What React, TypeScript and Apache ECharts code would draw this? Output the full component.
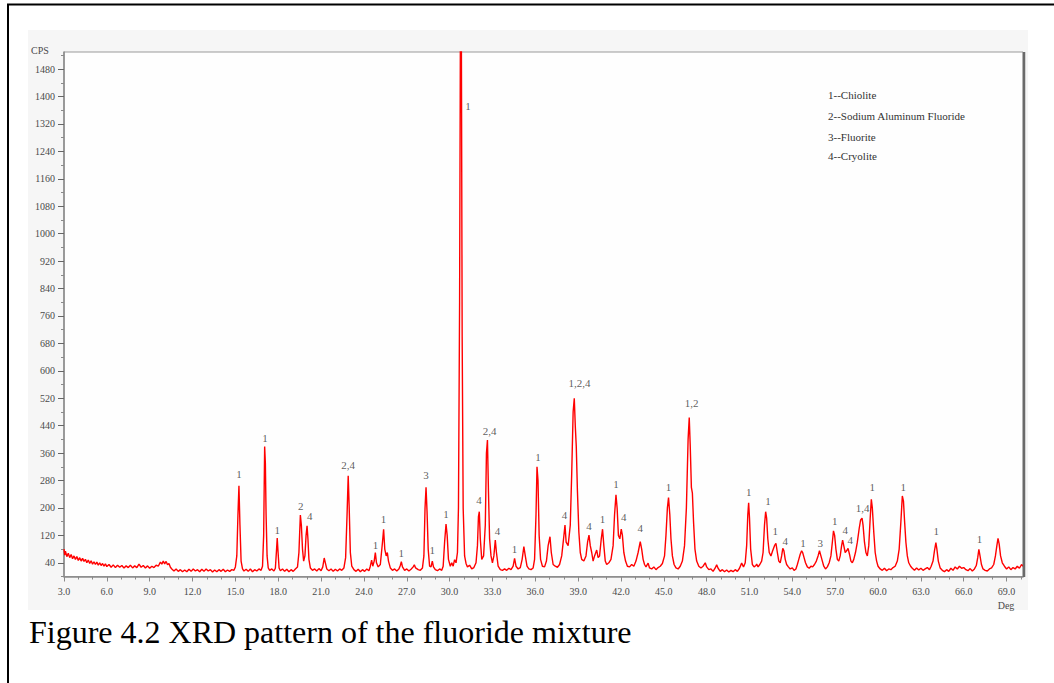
import React, { useEffect, useRef } from "react";
import * as echarts from "echarts";

// ---- data ----
const xTickLabels = [3, 6, 9, 12, 15, 18, 21, 24, 27, 30, 33, 36, 39, 42, 45, 48, 51, 54, 57, 60, 63, 66, 69];
const yTickLabels = [40, 120, 200, 280, 360, 440, 520, 600, 680, 760, 840, 920, 1000, 1080, 1160, 1240, 1320, 1400, 1480];
const yMinorTicks = [0, 80, 160, 240, 320, 400, 480, 560, 640, 720, 800, 880, 960, 1040, 1120, 1200, 1280, 1360, 1440, 1520];

const legendLines = ["1--Chiolite", "2--Sodium Aluminum Fluoride", "3--Fluorite", "4--Cryolite"];
const caption = "Figure 4.2 XRD pattern of the fluoride mixture";
const yUnit = "CPS";
const xUnit = "Deg";

// 2-theta (deg), intensity (CPS)
const pattern: number[][] = [
  [3.0, 80], [3.05, 62], [3.1, 74], [3.2, 58], [3.3, 68], [3.4, 55], [3.5, 64], [3.6, 52], [3.7, 60], [3.8, 50], [3.9, 58],
  [4.0, 47], [4.1, 55], [4.2, 45], [4.3, 53], [4.4, 44], [4.5, 50], [4.6, 40], [4.7, 48], [4.8, 38], [4.9, 46],
  [5.0, 36], [5.1, 43], [5.2, 35], [5.3, 42], [5.4, 33], [5.5, 40], [5.6, 32], [5.7, 38], [5.8, 30], [5.9, 37],
  [6.0, 29], [6.15, 35], [6.3, 27], [6.45, 34], [6.6, 26], [6.75, 33], [6.9, 27], [7.05, 32], [7.2, 25], [7.35, 31],
  [7.5, 26], [7.65, 33], [7.8, 25], [7.95, 31], [8.1, 26], [8.25, 36], [8.4, 27], [8.55, 32], [8.7, 25], [8.85, 31],
  [9.0, 24], [9.15, 30], [9.3, 26], [9.45, 33], [9.6, 30], [9.75, 42], [9.85, 36], [9.95, 45], [10.05, 37], [10.15, 44],
  [10.25, 34], [10.35, 38], [10.45, 27], [10.55, 22], [10.7, 16], [10.85, 22], [11.0, 15], [11.15, 20], [11.3, 14],
  [11.45, 19], [11.6, 14], [11.75, 21], [11.9, 15], [12.05, 22], [12.2, 16], [12.35, 20], [12.5, 14], [12.65, 21],
  [12.8, 15], [12.95, 22], [13.1, 16], [13.25, 20], [13.4, 13], [13.55, 19], [13.7, 14], [13.85, 20], [14.0, 15],
  [14.15, 21], [14.3, 14], [14.45, 19], [14.6, 15], [14.75, 20], [14.9, 18], [15.0, 28], [15.1, 60], [15.18, 180],
  [15.25, 265], [15.32, 150], [15.4, 45], [15.5, 22], [15.6, 16], [15.75, 21], [15.9, 15], [16.05, 22], [16.2, 14],
  [16.35, 20], [16.5, 16], [16.65, 22], [16.8, 18], [16.9, 30], [16.98, 120], [17.05, 379], [17.1, 330], [17.15, 180],
  [17.22, 60], [17.3, 25], [17.4, 18], [17.55, 22], [17.7, 16], [17.8, 24], [17.87, 70], [17.93, 112], [17.99, 70],
  [18.06, 25], [18.15, 17], [18.3, 22], [18.45, 15], [18.6, 21], [18.75, 14], [18.9, 20], [19.05, 15], [19.2, 22],
  [19.35, 28], [19.45, 70], [19.55, 179], [19.62, 150], [19.7, 80], [19.78, 45], [19.87, 60], [19.95, 120], [20.02, 148],
  [20.08, 110], [20.15, 50], [20.25, 25], [20.4, 18], [20.55, 22], [20.7, 16], [20.85, 23], [21.0, 17], [21.12, 28],
  [21.22, 54], [21.3, 40], [21.4, 22], [21.55, 17], [21.7, 22], [21.85, 15], [22.0, 21], [22.15, 16], [22.3, 22],
  [22.45, 18], [22.6, 25], [22.72, 55], [22.82, 180], [22.9, 294], [22.97, 200], [23.05, 70], [23.15, 30], [23.3, 20],
  [23.45, 15], [23.6, 21], [23.75, 14], [23.9, 20], [24.05, 15], [24.2, 22], [24.35, 17], [24.45, 30], [24.54, 48],
  [24.62, 30], [24.72, 45], [24.8, 70], [24.88, 40], [25.0, 28], [25.15, 35], [25.3, 100], [25.38, 138], [25.46, 80],
  [25.56, 60], [25.64, 70], [25.72, 45], [25.85, 25], [26.0, 18], [26.15, 22], [26.3, 16], [26.45, 22], [26.55, 32],
  [26.62, 43], [26.7, 28], [26.85, 18], [27.0, 22], [27.15, 16], [27.3, 21], [27.45, 28], [27.53, 34], [27.62, 25],
  [27.8, 20], [27.95, 18], [28.1, 25], [28.2, 60], [28.28, 200], [28.35, 260], [28.42, 190], [28.5, 80], [28.6, 30],
  [28.7, 28], [28.79, 45], [28.87, 28], [29.0, 20], [29.15, 17], [29.3, 22], [29.45, 18], [29.55, 30], [29.65, 100],
  [29.75, 153], [29.83, 120], [29.92, 50], [30.05, 30], [30.15, 40], [30.25, 30], [30.35, 49], [30.45, 40], [30.55, 70],
  [30.62, 200], [30.7, 800], [30.76, 1650], [30.82, 1650], [30.88, 700], [30.95, 200], [31.05, 60], [31.15, 38],
  [31.25, 28], [31.4, 33], [31.55, 22], [31.7, 26], [31.85, 40], [31.95, 90], [32.02, 175], [32.08, 189], [32.15, 110],
  [32.25, 50], [32.38, 60], [32.5, 150], [32.58, 360], [32.65, 398], [32.72, 250], [32.8, 110], [32.9, 60], [33.0, 40],
  [33.1, 60], [33.2, 106], [33.28, 70], [33.4, 30], [33.55, 20], [33.7, 18], [33.85, 22], [34.0, 18], [34.15, 24],
  [34.3, 20], [34.45, 30], [34.55, 53], [34.65, 30], [34.8, 22], [34.95, 26], [35.08, 50], [35.2, 87], [35.3, 60],
  [35.42, 30], [35.55, 22], [35.7, 20], [35.85, 25], [35.95, 50], [36.05, 180], [36.12, 320], [36.19, 280], [36.27, 120],
  [36.37, 50], [36.5, 30], [36.65, 28], [36.78, 45], [36.9, 90], [37.03, 116], [37.12, 70], [37.25, 35], [37.4, 30],
  [37.55, 27], [37.7, 35], [37.85, 60], [37.98, 110], [38.08, 150], [38.16, 100], [38.3, 90], [38.45, 150], [38.55, 300],
  [38.65, 480], [38.73, 520], [38.8, 440], [38.87, 379], [38.95, 250], [39.05, 130], [39.15, 70], [39.25, 50], [39.4, 45],
  [39.55, 60], [39.66, 100], [39.76, 121], [39.85, 90], [39.95, 70], [40.05, 45], [40.15, 60], [40.3, 77], [40.4, 55],
  [40.5, 60], [40.62, 110], [40.71, 138], [40.8, 90], [40.9, 45], [41.0, 35], [41.15, 40], [41.3, 50], [41.45, 90],
  [41.55, 180], [41.65, 238], [41.73, 200], [41.82, 120], [41.92, 110], [42.02, 138], [42.1, 120], [42.2, 70],
  [42.32, 45], [42.45, 30], [42.6, 28], [42.75, 35], [42.9, 30], [43.05, 45], [43.2, 70], [43.35, 102], [43.45, 80],
  [43.55, 50], [43.65, 35], [43.75, 28], [43.9, 39], [44.0, 25], [44.15, 22], [44.3, 28], [44.45, 20], [44.6, 26],
  [44.75, 30], [44.9, 38], [45.05, 60], [45.15, 120], [45.25, 200], [45.33, 230], [45.42, 180], [45.5, 110], [45.6, 60],
  [45.72, 35], [45.85, 25], [46.0, 22], [46.15, 30], [46.3, 45], [46.45, 90], [46.58, 200], [46.7, 400], [46.78, 464],
  [46.85, 380], [46.93, 260], [47.0, 243], [47.08, 160], [47.18, 80], [47.3, 45], [47.45, 30], [47.6, 25], [47.75, 30],
  [47.9, 40], [48.0, 28], [48.15, 20], [48.3, 22], [48.45, 15], [48.6, 25], [48.7, 34], [48.8, 24], [48.95, 15],
  [49.1, 20], [49.25, 14], [49.4, 19], [49.55, 13], [49.7, 18], [49.85, 14], [50.0, 20], [50.15, 15], [50.3, 24],
  [50.45, 39], [50.58, 28], [50.7, 40], [50.8, 90], [50.88, 180], [50.94, 215], [51.0, 170], [51.08, 80], [51.2, 35],
  [51.32, 28], [51.45, 32], [51.5, 36], [51.6, 28], [51.72, 35], [51.85, 45], [51.95, 70], [52.05, 150], [52.13, 189],
  [52.2, 170], [52.28, 110], [52.38, 70], [52.5, 60], [52.62, 75], [52.75, 90], [52.85, 97], [52.95, 70], [53.05, 45],
  [53.15, 40], [53.25, 60], [53.33, 82], [53.41, 75], [53.5, 50], [53.6, 35], [53.72, 28], [53.85, 22], [54.0, 25],
  [54.12, 18], [54.25, 22], [54.35, 35], [54.45, 50], [54.55, 65], [54.65, 75], [54.72, 70], [54.82, 55], [54.92, 40],
  [55.05, 28], [55.18, 24], [55.3, 30], [55.42, 28], [55.55, 35], [55.68, 45], [55.8, 60], [55.9, 75], [56.0, 60],
  [56.1, 45], [56.2, 30], [56.32, 22], [56.45, 28], [56.58, 40], [56.7, 60], [56.8, 100], [56.88, 133], [56.96, 120],
  [57.05, 80], [57.15, 50], [57.25, 45], [57.35, 60], [57.45, 90], [57.52, 106], [57.6, 90], [57.7, 70], [57.8, 75],
  [57.9, 82], [58.0, 65], [58.1, 45], [58.2, 40], [58.3, 50], [58.42, 70], [58.55, 100], [58.68, 140], [58.78, 165],
  [58.88, 170], [58.95, 150], [59.05, 100], [59.15, 70], [59.25, 60], [59.35, 90], [59.45, 170], [59.53, 225],
  [59.6, 200], [59.7, 130], [59.8, 70], [59.9, 45], [60.0, 30], [60.15, 22], [60.3, 18], [60.45, 24], [60.6, 17],
  [60.75, 22], [60.9, 20], [61.05, 26], [61.2, 30], [61.35, 45], [61.48, 80], [61.6, 160], [61.7, 235], [61.78, 220],
  [61.86, 160], [61.95, 100], [62.05, 60], [62.15, 40], [62.28, 30], [62.4, 24], [62.55, 18], [62.7, 25], [62.85, 19],
  [63.0, 24], [63.15, 18], [63.3, 22], [63.45, 26], [63.6, 20], [63.72, 30], [63.85, 45], [63.95, 75], [64.05, 99],
  [64.12, 80], [64.22, 45], [64.35, 25], [64.5, 18], [64.65, 14], [64.8, 20], [64.95, 15], [65.1, 24], [65.25, 18],
  [65.4, 28], [65.55, 22], [65.7, 30], [65.85, 24], [66.0, 26], [66.15, 20], [66.3, 17], [66.45, 23], [66.6, 16],
  [66.75, 22], [66.88, 32], [66.98, 55], [67.06, 79], [67.14, 60], [67.24, 35], [67.35, 22], [67.5, 18], [67.65, 16],
  [67.8, 22], [67.95, 25], [68.1, 35], [68.22, 60], [68.32, 90], [68.4, 111], [68.48, 95], [68.58, 60], [68.7, 40],
  [68.85, 30], [69.0, 22], [69.15, 28], [69.3, 20], [69.45, 26], [69.6, 22], [69.75, 30], [69.9, 24], [70.05, 35],
  [70.15, 30],
];

// peak annotations: [deg, cps at label centre, text]
const peakLabels: [number, number, string][] = [
  [15.25, 299, "1"], [17.07, 404, "1"], [17.93, 136, "1"], [19.57, 206, "2"], [20.2, 176, "4"],
  [22.9, 325, "2,4"], [24.82, 92, "1"], [25.38, 168, "1"], [26.62, 69, "1"], [28.35, 296, "3"],
  [28.79, 77, "1"], [29.75, 182, "1"], [31.28, 1372, "1"], [32.05, 223, "4"], [32.8, 424, "2,4"],
  [33.35, 133, "4"], [34.55, 80, "1"], [36.19, 349, "1"], [38.05, 179, "4"], [39.1, 564, "1,2,4"],
  [39.76, 147, "4"], [40.71, 168, "1"], [41.65, 270, "1"], [42.2, 174, "4"], [43.35, 141, "4"],
  [45.33, 261, "1"], [46.95, 507, "1,2"], [50.94, 246, "1"], [52.3, 220, "1"], [52.8, 133, "1"],
  [53.5, 103, "4"], [54.75, 98, "1"], [55.95, 98, "3"], [56.96, 162, "1"], [57.7, 136, "4"],
  [58.05, 106, "4"], [58.92, 200, "1,4"], [59.6, 261, "1"], [61.77, 261, "1"], [64.08, 133, "1"],
  [67.1, 109, "1"],
];

// ---- layout / style ----
const SERIF = "'Liberation Serif', 'Times New Roman', serif";
const X_MIN = 3;
const X_MAX = 70.15;
const Y_MAX = 1530;

const xMinorTicks: number[] = [];
xTickLabels.forEach((t) => {
  xMinorTicks.push(t + 1, t + 2);
});

export default function App() {
  const ref = useRef<HTMLDivElement>(null);

  useEffect(() => {
    if (!ref.current) return;
    const chart = echarts.init(ref.current, null, { renderer: "svg" });
    const axisColor = "#8a8a8a";
    const labelColor = "#4a4a4a";

    chart.setOption({
      animation: false,
      backgroundColor: "#ffffff",
      grid: {
        left: 64,
        right: 31,
        top: 52,
        bottom: 106.5,
        show: true,
        borderColor: "#9a9a9a",
        borderWidth: 1,
        backgroundColor: "transparent",
        outerBoundsMode: "none",
      },
      xAxis: [
        {
          type: "value",
          min: X_MIN,
          max: X_MAX,
          position: "bottom",
          axisLine: { show: true, lineStyle: { color: axisColor, width: 1.5 } },
          axisTick: { show: true, length: 5, customValues: xTickLabels, lineStyle: { color: axisColor } },
          axisLabel: {
            customValues: xTickLabels,
            formatter: (v: number) => v.toFixed(1),
            fontFamily: SERIF,
            fontSize: 10,
            color: labelColor,
            margin: 10,
          },
          splitLine: { show: false },
        },
        {
          type: "value",
          min: X_MIN,
          max: X_MAX,
          position: "bottom",
          axisLine: { show: false },
          axisTick: { show: true, length: 3, customValues: xMinorTicks, lineStyle: { color: axisColor } },
          axisLabel: { show: false },
          splitLine: { show: false },
        },
      ],
      yAxis: [
        {
          type: "value",
          min: 0,
          max: Y_MAX,
          position: "left",
          axisLine: { show: true, lineStyle: { color: axisColor, width: 1.5 } },
          axisTick: { show: true, length: 3, customValues: yMinorTicks, lineStyle: { color: axisColor } },
          axisLabel: {
            customValues: yTickLabels,
            formatter: (v: number) => String(v),
            fontFamily: SERIF,
            fontSize: 10,
            color: labelColor,
            margin: 9,
            verticalAlign: "middle",
            padding: [0, 0, 7, 0],
          },
          splitLine: { show: false },
        },
        {
          type: "value",
          min: 0,
          max: Y_MAX,
          position: "left",
          axisLine: { show: false },
          axisTick: { show: true, length: 6, customValues: yTickLabels, lineStyle: { color: "#666" } },
          axisLabel: { show: false },
          splitLine: { show: false },
        },
      ],
      graphic: [
        { type: "rect", z: -10, shape: { x: 28, y: 30, width: 1000, height: 580 }, style: { fill: "#f6f6f6" } },
        { type: "rect", z: -9, shape: { x: 64, y: 52, width: 959, height: 524.5 }, style: { fill: "#fefefe" } },
        { type: "line", z: 50, shape: { x1: 1024, y1: 52, x2: 1024, y2: 577 }, style: { stroke: "#6a6a6a", lineWidth: 2.5 } },
        { type: "rect", z: 50, shape: { x: 8, y: 4.5, width: 1200, height: 800 }, style: { fill: "none", stroke: "#000", lineWidth: 2 } },
        { type: "text", x: 31, y: 50, style: { text: yUnit, font: `10px ${SERIF}`, fill: labelColor, verticalAlign: "middle" } },
        { type: "text", x: 1006, y: 605, style: { text: xUnit, font: `10px ${SERIF}`, fill: labelColor, align: "center", verticalAlign: "middle" } },
        ...legendLines.map((t, i) => ({
          type: "text",
          x: 828,
          y: [95, 116, 137, 156][i],
          style: { text: t, font: `11px ${SERIF}`, fill: "#333", verticalAlign: "middle" },
        })),
        {
          type: "text",
          x: 29,
          y: 632,
          style: { text: caption, font: `32px ${SERIF}`, fill: "#000", verticalAlign: "middle" },
        },
      ],
      series: [
        {
          type: "line",
          data: pattern,
          xAxisIndex: 0,
          yAxisIndex: 0,
          showSymbol: false,
          symbol: "none",
          clip: true,
          silent: true,
          lineStyle: { color: "#ff0000", width: 1.4 },
          z: 5,
        },
        {
          type: "scatter",
          data: peakLabels.map((p) => [p[0], p[1], p[2]]),
          xAxisIndex: 0,
          yAxisIndex: 0,
          symbolSize: 1,
          itemStyle: { color: "rgba(0,0,0,0)" },
          silent: true,
          z: 6,
          label: {
            show: true,
            position: "inside",
            formatter: (p: any) => p.value[2],
            fontFamily: SERIF,
            fontSize: 11,
            color: "#333",
          },
        },
      ],
    });

    return () => chart.dispose();
  }, []);

  return (
    <div
      ref={ref}
      style={{ position: "absolute", left: 0, top: 0, width: 1054, height: 683 }}
    />
  );
}
